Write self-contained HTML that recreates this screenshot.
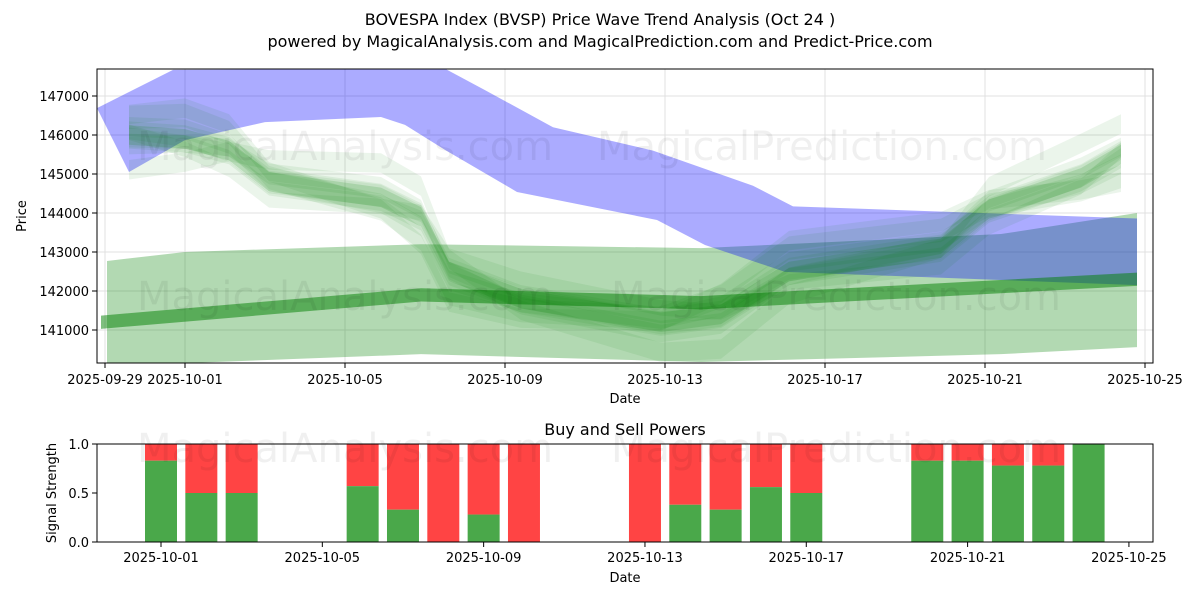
<!DOCTYPE html>
<html><head><meta charset="utf-8"><style>
body{margin:0;background:#fff;font-family:"Liberation Sans","DejaVu Sans",sans-serif}
svg text{font-family:"DejaVu Sans","Liberation Sans",sans-serif}
</style></head><body>
<svg id="c" width="1200" height="600" viewBox="0 0 1200 600"></svg>
<script>
// ---- data ----
const priceTicks=[141000,142000,143000,144000,145000,146000,147000];
const topDateTicks=["2025-09-29","2025-10-01","2025-10-05","2025-10-09","2025-10-13","2025-10-17","2025-10-21","2025-10-25"];
const botDateTicks=["2025-10-01","2025-10-05","2025-10-09","2025-10-13","2025-10-17","2025-10-21","2025-10-25"];
const barDates=["2025-10-01","2025-10-02","2025-10-03","2025-10-06","2025-10-07","2025-10-08","2025-10-09","2025-10-10","2025-10-13","2025-10-14","2025-10-15","2025-10-16","2025-10-17","2025-10-20","2025-10-21","2025-10-22","2025-10-23","2025-10-24"];
const buyPower=[0.83,0.5,0.5,0.57,0.33,0,0.28,0,0,0.38,0.33,0.56,0.5,0.83,0.83,0.78,0.78,1.0];
const blueUpperDays=[-0.2,1.7,8.5,9.5,11.2,13.7,16.2,17.2,25.8];
const blueUpper=[146690,147670,147700,147150,146200,145600,144700,144170,143860];
const blueLowerDays=[0.6,2,4,6.9,7.5,8.5,10.3,13.8,15,17,25.8];
const blueLower=[145050,145870,146330,146460,146260,145620,144540,143820,143180,142490,142150];
const waveDays=[0.6,2,3.1,4.1,6.9,7.9,8.6,10.4,13.9,15.4,17.1,20.9,22.1,24.4,25.4];
const wave=[146000,145900,145600,144800,144400,143900,142500,141800,141200,141400,142500,143100,144100,144900,145500];
const flatDays=[0.05,2,7.9,14.9,22.4,25.8];
const flatUpper=[142770,143000,143200,143100,143460,144000];
const flatLower=[140000,140150,140380,140180,140380,140560];
const thinDays=[-0.1,7.9,14.9,25.8];
const thinMid=[141200,141900,141700,142300];
// ---- scales ----
const NS="http://www.w3.org/2000/svg",S=document.getElementById('c');
const X0=105,PXD=40;
const xd=d=>X0+d*PXD;
const yp=v=>330-(v-141000)*0.039;
const dayOf=s=>(Date.parse(s)-Date.parse("2025-09-29"))/864e5;
const xb=s=>161+(dayOf(s)-2)*40.33;
const yb=v=>542-v*98;
function el(t,a,p){const e=document.createElementNS(NS,t);for(const k in a)e.setAttribute(k,a[k]);(p||S).appendChild(e);return e;}
function txt(x,y,s,a,p){const e=el('text',Object.assign({x:x,y:y,'font-size':13,fill:'#000'},a||{}),p);e.textContent=s;return e;}
let t=txt(600,25,"BOVESPA Index (BVSP) Price Wave Trend Analysis (Oct 24 )",{'text-anchor':'middle','font-size':16});


t=txt(600,47,"powered by MagicalAnalysis.com and MagicalPrediction.com and Predict-Price.com",{'text-anchor':'middle','font-size':16});


const topG=el('g',{});


const cp=el('clipPath',{id:'cp'},S);el('rect',{x:97,y:69,width:1056,height:294},cp);
priceTicks.forEach(v=>{el('line',{x1:97,x2:1153,y1:yp(v),y2:yp(v),stroke:'#e0e0e0'},topG);el('line',{x1:92,x2:97,y1:yp(v),y2:yp(v),stroke:'#000'},topG);
 const l=txt(89,yp(v)+5,v,{'text-anchor':'end','font-size':13},topG);
 
 });
topDateTicks.forEach(s=>{const x=xd(dayOf(s));el('line',{x1:x,x2:x,y1:69,y2:363,stroke:'#e0e0e0'},topG);el('line',{x1:x,x2:x,y1:363,y2:368,stroke:'#000'},topG);
 const l=txt(x,384,s,{'text-anchor':'middle','font-size':13},topG);
 
 });
const marks=el('g',{'clip-path':'url(#cp)'},topG);
function band(ud,u,ld,lo,fill,op,name){let p=ud.map((d,i)=>xd(d)+','+yp(u[i]));let q=ld.map((d,i)=>xd(d)+','+yp(lo[i])).reverse();
 const e=el('polygon',{points:p.concat(q).join(' '),fill:fill,'fill-opacity':op},marks);
 
 }
band(flatDays,flatUpper,flatDays,flatLower,'#008000',0.3,'wide-green-band');
band(blueUpperDays,blueUpper,blueLowerDays,blueLower,'#0000ff',0.33,'blue-band');
band(thinDays,thinMid.map(v=>v+170),thinDays,thinMid.map(v=>v-170),'#008000',0.5,'thin-green-band');
const offs=[[0,700],[250,500],[-300,450],[500,400],[-600,600],[150,350],[-150,300],[800,500],[-900,500]];
offs.forEach((o,k)=>band(waveDays,wave.map((v,i)=>v+o[0]*Math.sin(i*0.7+k)+o[1]/2),waveDays,wave.map((v,i)=>v+o[0]*Math.sin(i*0.7+k)-o[1]/2),'#008000',0.08,'wave-green-band'));
band(waveDays,wave.map(v=>v+250),waveDays,wave.map(v=>v-250),'#008000',0.15,'wave-green-core');
[["MagicalAnalysis.com",345,160],["MagicalPrediction.com",822,160],["MagicalAnalysis.com",345,310],["MagicalPrediction.com",836,310]].forEach(w=>{const e=txt(w[1],w[2],w[0],{'text-anchor':'middle','font-size':40,fill:'#000','fill-opacity':0.06},topG);
 
 });
el('rect',{x:97,y:69,width:1056,height:294,fill:'none',stroke:'#000'},topG);
t=txt(625,403,"Date",{'text-anchor':'middle'});


t=txt(26,216,"Price",{'text-anchor':'middle',transform:'rotate(-90 26 216)'});


const bot=el('g',{});


[0,0.5,1].forEach(v=>{el('line',{x1:92,x2:97,y1:yb(v),y2:yb(v),stroke:'#000'},bot);const l=txt(89,yb(v)+5,v.toFixed(1),{'text-anchor':'end'},bot);
 
 });
botDateTicks.forEach(s=>{const x=xb(s);el('line',{x1:x,x2:x,y1:542,y2:547,stroke:'#000'},bot);const l=txt(x,562,s,{'text-anchor':'middle'},bot);
 
 });
barDates.forEach((s,i)=>{const x=xb(s)-16;
 const r=el('rect',{x:x,y:yb(1),width:32,height:yb(buyPower[i])-yb(1),fill:'#ff4444'},bot);
 
 
 const g=el('rect',{x:x,y:yb(buyPower[i]),width:32,height:yb(0)-yb(buyPower[i]),fill:'#4aa84a'},bot);
 
 });
[["MagicalAnalysis.com",345,462],["MagicalPrediction.com",836,462]].forEach(w=>{const e=txt(w[1],w[2],w[0],{'text-anchor':'middle','font-size':40,fill:'#000','fill-opacity':0.06},bot);
 
 });
el('rect',{x:97,y:444,width:1056,height:98,fill:'none',stroke:'#000'},bot);
t=txt(625,435,"Buy and Sell Powers",{'text-anchor':'middle','font-size':16});


t=txt(625,582,"Date",{'text-anchor':'middle'});


t=txt(56,493,"Signal Strength",{'text-anchor':'middle',transform:'rotate(-90 56 493)'});


</script>
</body></html>
